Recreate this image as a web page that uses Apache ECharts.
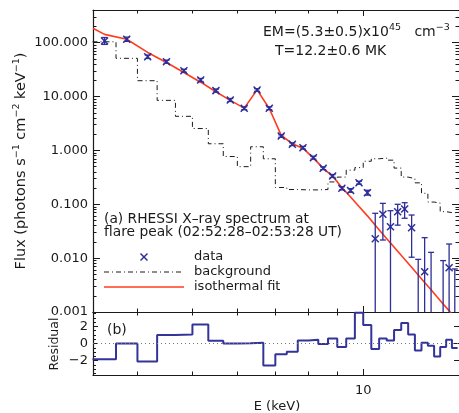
<!DOCTYPE html>
<html>
<head>
<meta charset="utf-8">
<script src="https://cdn.jsdelivr.net/npm/echarts@6/dist/echarts.min.js"></script>
<style>
  html, body { margin: 0; padding: 0; background: #fff; }
  #chart { width: 459px; height: 413px; }
</style>
</head>
<body>
<div id="chart"></div>
<script>
// ---------------- data ----------------
// energy bins (keV): edges and centres
const binEdges = [3.333,3.667,4.000,4.333,4.667,5.000,5.333,5.667,6.000,6.333,6.667,7.000,7.333,7.667,8.000,8.333,8.667,9.000,9.333,9.667,10.000,10.333,10.667,11.000,11.333,11.667,12.000,12.333,12.667,13.000,13.333,13.667,14.000,14.333,14.667];
const binCenters = [3.50,3.83,4.17,4.50,4.83,5.17,5.50,5.83,6.17,6.50,6.83,7.17,7.50,7.83,8.17,8.50,8.83,9.17,9.50,9.83,10.17,10.50,10.83,11.17,11.50,11.83,12.17,12.50,12.83,13.17,13.50,13.83,14.17,14.50];
// observed flux (photons s^-1 cm^-2 keV^-1); null = not visible (below range)
const dataFlux = [108,116,55,44.4,30.2,20.3,12.9,8.63,6.05,13.2,6.05,1.85,1.30,1.12,0.733,0.466,0.335,0.198,0.180,0.251,0.164,0.023,0.0652,0.0384,0.0728,0.0817,0.0367,null,0.0056,null,null,null,0.00664,null];
const dataErrLo = [93,106,51,41.5,28.3,19.0,12.1,8.1,5.7,12.5,5.7,1.75,1.23,1.06,0.69,0.44,0.315,0.185,0.167,0.236,0.148,0.0001,0.0217,0.0001,0.041,0.055,0.0104,0.0001,0.0001,0.0001,null,0.0001,0.0001,0.0001];
const dataErrHi = [125,127,59,47.5,32.2,21.7,13.8,9.2,6.45,14.0,6.45,1.95,1.38,1.19,0.78,0.495,0.357,0.212,0.195,0.268,0.182,0.068,0.104,0.076,0.100,0.107,0.0632,0.0095,0.024,0.0128,null,0.009,0.0183,0.0063];
// background spectrum (per bin)
const bgFlux = [104,51.3,19.7,8.5,4.3,2.55,1.33,0.77,0.50,1.17,0.70,0.205,0.188,0.185,0.185,0.188,0.26,0.32,0.43,0.48,0.63,0.70,0.72,0.66,0.47,0.32,0.30,0.25,0.16,0.11,0.105,0.073,0.07,0.07];
// isothermal fit
const fitE = [3.34,3.50,3.83,4.17,4.50,4.83,5.17,5.50,5.83,6.17,6.50,6.83,7.17,7.50,7.83,8.17,8.50,8.83,9.17,9.50,9.83,10.17,10.50,10.83,11.17,11.50,11.83,12.17,12.50,12.83,13.17,13.50,13.83,14.17,14.50];
const fitFlux = [185,143,116,66,43,28,18.5,12.3,8.5,6.1,13.3,6.0,1.9,1.33,1.10,0.72,0.47,0.33,0.205,0.137,0.091,0.061,0.041,0.0277,0.0191,0.0134,0.0095,0.00676,0.00486,0.00354,0.00259,0.0019,0.00141,0.00106,0.00079];
// normalised residuals (per bin)
const residual = [-1.84,0.0,-2.1,1.0,1.06,2.24,0.32,0.0,0.02,0.08,-2.59,-1.25,-0.98,0.35,0.44,-0.07,0.59,-0.42,0.59,3.6,2.16,-0.66,0.59,0.35,1.58,2.4,1.06,-0.82,0.08,-0.27,-1.53,-0.42,0.44,-0.54];
// tick values
const xMinorTicks = [4,5,6,7,8,9];
const xMajorTicks = [10];
const yMajorTicks = [0.001,0.01,0.1,1,10,100];
const yMinorTicks = [];
[0.001,0.01,0.1,1,10,100].forEach(d => { for (let m = 2; m <= 9; m++) yMinorTicks.push(+(d*m).toPrecision(3)); });
const rMajorTicks = [-2,0,2];
const rMinorTicks = [-3.5,-3,-2.5,-1.5,-1,-0.5,0.5,1,1.5,2.5,3,3.5];

// ---------------- build series data ----------------
function stepPairs(edges, vals) {
  const out = [];
  vals.forEach((v, i) => { out.push([edges[i], v]); out.push([edges[i+1], v]); });
  return out;
}
const bgData = stepPairs(binEdges, bgFlux);
const residData = stepPairs(binEdges, residual);
const fitData = fitE.map((e, i) => [e, fitFlux[i]]);
const pointData = [];
binCenters.forEach((e, i) => {
  if (dataFlux[i] == null && dataErrHi[i] == null) return;
  pointData.push([e, dataFlux[i] == null ? NaN : dataFlux[i],
                  dataErrLo[i] == null ? NaN : dataErrLo[i],
                  dataErrHi[i] == null ? NaN : dataErrHi[i]]);
});

// ---------------- styling ----------------
const FONT = 'DejaVu Sans';
const INK = '#1a1a1a';
const BLUE = '#2e2e98';
const RED = '#ff3b1f';
const E_MIN = 3.34, E_MAX = 14.75;
const AXW = 1.2;

function xAxis(grid, pos, ticks, len, showLine, labelVals) {
  return {
    type: 'log', logBase: 10, min: E_MIN, max: E_MAX, gridIndex: grid, position: pos,
    axisLine: { show: showLine, onZero: false, lineStyle: { color: INK, width: AXW } },
    axisTick: { show: true, inside: true, length: len, customValues: ticks, lineStyle: { color: INK, width: 1 } },
    axisLabel: labelVals ? { show: true, customValues: labelVals, margin: 9, color: INK, fontFamily: FONT, fontSize: 13,
                             formatter: v => String(Math.round(v)) } : { show: false },
    splitLine: { show: false }, minorTick: { show: false }
  };
}
function yLog(pos, ticks, len, showLine, labels) {
  return {
    type: 'log', logBase: 10, min: 0.001, max: 405, gridIndex: 0, position: pos,
    axisLine: { show: showLine, onZero: false, lineStyle: { color: INK, width: AXW } },
    axisTick: { show: true, inside: true, length: len, customValues: ticks, lineStyle: { color: INK, width: 1 } },
    axisLabel: labels ? { show: true, customValues: yMajorTicks, margin: 5, color: INK, fontFamily: FONT, fontSize: 13,
                          formatter: v => Number(v).toFixed(3) } : { show: false },
    splitLine: { show: false }
  };
}
function yRes(pos, ticks, len, showLine, labels) {
  return {
    type: 'value', min: -3.7, max: 3.7, gridIndex: 1, position: pos,
    axisLine: { show: showLine, onZero: false, lineStyle: { color: INK, width: AXW } },
    axisTick: { show: true, inside: true, length: len, customValues: ticks, lineStyle: { color: INK, width: 1 } },
    axisLabel: labels ? { show: true, customValues: rMajorTicks, margin: 5, color: INK, fontFamily: FONT, fontSize: 13,
                          formatter: v => (v < 0 ? '\u2212' + Math.abs(v) : String(v)) } : { show: false },
    splitLine: { show: false }
  };
}

const sup = { fontFamily: FONT, fontSize: 9.5, verticalAlign: 'top', lineHeight: 10, fill: INK };

const option = {
  animation: false,
  backgroundColor: '#fff',
  grid: [
    { left: 93, top: 10, width: 366, height: 302 },
    { left: 93, top: 312, width: 366, height: 63 }
  ],
  xAxis: [
    xAxis(0, 'bottom', xMinorTicks, 3.5, true),
    xAxis(0, 'bottom', xMajorTicks, 6, false),
    xAxis(0, 'top', xMinorTicks, 3.5, true),
    xAxis(0, 'top', xMajorTicks, 6, false),
    xAxis(1, 'bottom', xMinorTicks, 3.5, true),
    xAxis(1, 'bottom', xMajorTicks, 6, false, xMajorTicks),
    xAxis(1, 'top', xMinorTicks, 3.5, true),
    xAxis(1, 'top', xMajorTicks, 6, false)
  ],
  yAxis: [
    yLog('left', yMajorTicks, 7, true, true),
    yLog('left', yMinorTicks, 3.5, false, false),
    yLog('right', yMajorTicks, 7, false, false),
    yLog('right', yMinorTicks, 3.5, false, false),
    yRes('left', rMajorTicks, 5, true, true),
    yRes('left', rMinorTicks, 3, false, false),
    yRes('right', rMajorTicks, 5, false, false)
  ],
  series: [
    {
      name: 'background', type: 'line', xAxisIndex: 0, yAxisIndex: 0, data: bgData,
      symbol: 'none', clip: true, z: 2,
      lineStyle: { color: INK, width: 1, type: [5, 3, 1, 3] }
    },
    {
      name: 'isothermal fit', type: 'line', xAxisIndex: 0, yAxisIndex: 0, data: fitData,
      symbol: 'none', clip: true, z: 3,
      lineStyle: { color: RED, width: 1.6 }
    },
    {
      name: 'data', type: 'custom', xAxisIndex: 0, yAxisIndex: 0, data: pointData, clip: true, z: 4,
      encode: { x: 0, y: 1 },
      renderItem: function (params, api) {
        const e = api.value(0), f = api.value(1), lo = api.value(2), hi = api.value(3);
        const children = [];
        const st = { stroke: BLUE, lineWidth: 1.3, fill: null };
        const cap = 3;
        if (isFinite(lo) && isFinite(hi)) {
          const p0 = api.coord([e, lo]), p1 = api.coord([e, hi]);
          children.push({ type: 'line', shape: { x1: p0[0], y1: p0[1], x2: p1[0], y2: p1[1] }, style: st });
          children.push({ type: 'line', shape: { x1: p1[0]-cap, y1: p1[1], x2: p1[0]+cap, y2: p1[1] }, style: st });
          children.push({ type: 'line', shape: { x1: p0[0]-cap, y1: p0[1], x2: p0[0]+cap, y2: p0[1] }, style: st });
        }
        if (isFinite(f)) {
          const c = api.coord([e, f]); const s = 3.5;
          children.push({ type: 'line', shape: { x1: c[0]-s, y1: c[1]-s, x2: c[0]+s, y2: c[1]+s }, style: Object.assign({}, st, { lineWidth: 1.5 }) });
          children.push({ type: 'line', shape: { x1: c[0]-s, y1: c[1]+s, x2: c[0]+s, y2: c[1]-s }, style: Object.assign({}, st, { lineWidth: 1.5 }) });
        }
        return { type: 'group', children: children };
      }
    },
    {
      name: 'residual', type: 'line', xAxisIndex: 4, yAxisIndex: 4, data: residData,
      symbol: 'none', clip: true, z: 3,
      lineStyle: { color: '#33339a', width: 2 },
      markLine: {
        silent: true, symbol: 'none', label: { show: false },
        lineStyle: { color: '#777', type: [1, 3], width: 1 },
        data: [{ yAxis: 0 }]
      }
    }
  ],
  graphic: { elements: [
    { type: 'text', x: 263, y: 32, style: {
        text: '{n|EM=(5.3\u00b10.5)x10}{s|45}{n|   cm}{s|\u22123}', verticalAlign: 'middle',
        rich: { n: { fontFamily: FONT, fontSize: 14, lineHeight: 18, fill: INK }, s: sup } } },
    { type: 'text', x: 275, y: 51, style: { text: 'T=12.2\u00b10.6 MK', fontFamily: FONT, fontSize: 14, fill: INK, verticalAlign: 'middle' } },
    { type: 'text', x: 104, y: 219, style: { text: '(a) RHESSI X\u2013ray spectrum at', fontFamily: FONT, fontSize: 13.8, fill: INK, verticalAlign: 'middle' } },
    { type: 'text', x: 104, y: 232.5, style: { text: 'flare peak (02:52:28\u201302:53:28 UT)', fontFamily: FONT, fontSize: 13.8, fill: INK, verticalAlign: 'middle' } },
    // legend
    { type: 'line', shape: { x1: 140.5, y1: 253.5, x2: 147.5, y2: 260.5 }, style: { stroke: BLUE, lineWidth: 1.5 } },
    { type: 'line', shape: { x1: 140.5, y1: 260.5, x2: 147.5, y2: 253.5 }, style: { stroke: BLUE, lineWidth: 1.5 } },
    { type: 'text', x: 194, y: 257, style: { text: 'data', fontFamily: FONT, fontSize: 13, fill: INK, verticalAlign: 'middle' } },
    { type: 'line', shape: { x1: 104, y1: 272, x2: 184, y2: 272 }, style: { stroke: INK, lineWidth: 1, lineDash: [5, 3, 1, 3] } },
    { type: 'text', x: 194, y: 271.5, style: { text: 'background', fontFamily: FONT, fontSize: 13, fill: INK, verticalAlign: 'middle' } },
    { type: 'line', shape: { x1: 104, y1: 287, x2: 184, y2: 287 }, style: { stroke: RED, lineWidth: 1.6 } },
    { type: 'text', x: 194, y: 286.5, style: { text: 'isothermal fit', fontFamily: FONT, fontSize: 13, fill: INK, verticalAlign: 'middle' } },
    { type: 'text', x: 107, y: 330, style: { text: '(b)', fontFamily: FONT, fontSize: 14, fill: INK, verticalAlign: 'middle' } },
    // axis titles
    { type: 'text', x: 21, y: 161, rotation: Math.PI / 2, style: {
        text: '{n|Flux (photons s}{s|\u22121}{n| cm}{s|\u22122}{n| keV}{s|\u22121}{n|)}', align: 'center', verticalAlign: 'middle',
        rich: { n: { fontFamily: FONT, fontSize: 14.5, lineHeight: 18, fill: INK }, s: sup } } },
    { type: 'text', x: 55, y: 344, rotation: Math.PI / 2, style: { text: 'Residual', fontFamily: FONT, fontSize: 12.5, fill: INK, align: 'center', verticalAlign: 'middle' } },
    { type: 'text', x: 277, y: 407, style: { text: 'E (keV)', fontFamily: FONT, fontSize: 13, fill: INK, align: 'center', verticalAlign: 'middle' } }
  ] }
};

const chart = echarts.init(document.getElementById('chart'), null, { renderer: 'canvas' });
chart.setOption(option);
</script>
</body>
</html>
